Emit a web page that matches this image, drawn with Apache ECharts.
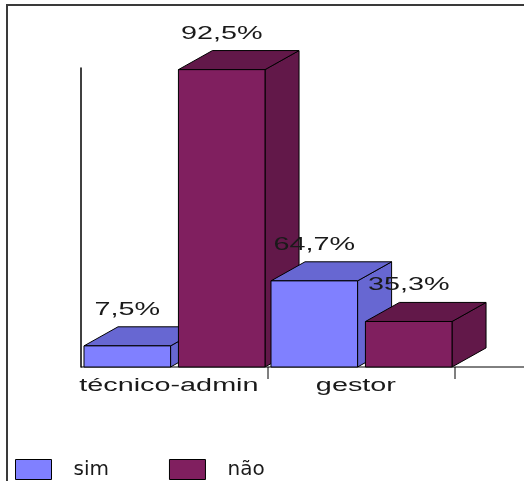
<!DOCTYPE html>
<html>
<head>
<meta charset="utf-8">
<script src="https://cdn.jsdelivr.net/npm/echarts@6/dist/echarts.min.js"></script>
<style>html,body{margin:0;padding:0;background:#fff;}#main{width:524px;height:481px;}</style>
</head>
<body>
<div id="main"></div>
<script>
const categories = ['técnico-admin', 'gestor'];
const seriesNames = ['sim', 'não'];
const simValues = [3, 11];
const naoValues = [37, 6];
const simLabels = ['7,5%', '64,7%'];
const naoLabels = ['92,5%', '35,3%'];

const Y_MIN = 0.4, Y_MAX = 37.2;
const colors = [
  {front: '#8080ff', dark: '#6767d2'},
  {front: '#801f5f', dark: '#621849'}
];
const FONT = '18px "Liberation Sans", Arial, sans-serif';

function makeRender(si, labels) {
  return function (params, api) {
    const ci = api.value(0), v = api.value(1);
    const c = api.coord([ci, v]);
    const b = api.coord([ci, Y_MIN]);
    const bw = api.size([1, 0])[0];
    const cx = c[0];
    const l = si === 0 ? cx - bw * 0.484 : cx + bw * 0.021;
    const r = si === 0 ? cx - bw * 0.021 : cx + bw * 0.484;
    const t = c[1], bot = b[1];
    const dx = bw * 0.182, dy = bw * 0.102;
    const zb = ci * 10 + si * 4 + 1;
    const col = colors[si];
    const stroke = {stroke: '#000', lineWidth: 1};
    const children = [
      {type: 'polygon', z2: zb, shape: {points: [[r, t], [r + dx, t - dy], [r + dx, bot - dy], [r, bot]]},
        style: Object.assign({fill: col.dark}, stroke)},
      {type: 'polygon', z2: zb + 1, shape: {points: [[l, t], [l + dx, t - dy], [r + dx, t - dy], [r, t]]},
        style: Object.assign({fill: col.dark}, stroke)},
      {type: 'polygon', z2: zb + 2, shape: {points: [[l, t], [r, t], [r, bot], [l, bot]]},
        style: Object.assign({fill: col.front}, stroke)},
      {type: 'text', z2: 100, x: (l + r) / 2, y: t - dy - 17, scaleX: 1.6,
        style: {text: labels[params.dataIndex], font: FONT, fill: '#1a1a1a', align: 'center', verticalAlign: 'middle'}}
    ];
    if (si === 0) {
      children.push({type: 'line', z2: 0, shape: {x1: cx + bw / 2, y1: bot, x2: cx + bw / 2, y2: bot + 12},
        style: {stroke: '#000', lineWidth: 1}});
      children.push({type: 'text', z2: 100, x: cx - bw * 0.03, y: bot + 19, scaleX: 1.6,
        style: {text: categories[ci], font: FONT, fill: '#1a1a1a', align: 'center', verticalAlign: 'middle'}});
      if (ci === 0) {
        children.push({type: 'line', z2: 0, shape: {x1: cx - bw / 2, y1: bot, x2: api.getWidth(), y2: bot},
          style: {stroke: '#000', lineWidth: 1}});
      }
    }
    return {type: 'group', children: children};
  };
}

const chart = echarts.init(document.getElementById('main'));
chart.setOption({
  animation: false,
  backgroundColor: '#fff',
  graphic: [{
    type: 'polyline', shape: {points: [[7, 481], [7, 5], [524, 5]]},
    style: {stroke: '#3a3a3a', lineWidth: 2, fill: null}
  }],
  grid: {left: 81, right: 69, top: 68, bottom: 114},
  legend: {
    data: seriesNames, left: 10, top: 454, orient: 'horizontal',
    icon: 'rect', itemWidth: 36, itemHeight: 20, itemGap: 60,
    itemStyle: {borderColor: '#000', borderWidth: 1},
    textStyle: {fontFamily: '"DejaVu Sans", sans-serif', fontSize: 20, color: '#1a1a1a', padding: [0, 0, 0, 17]}
  },
  xAxis: {
    type: 'category', data: categories, boundaryGap: true,
    axisLine: {show: false}, axisTick: {show: false}, axisLabel: {show: false}, splitLine: {show: false}
  },
  yAxis: {
    type: 'value', min: Y_MIN, max: Y_MAX,
    axisLine: {show: true, lineStyle: {color: '#000', width: 1.5}},
    axisTick: {show: false}, axisLabel: {show: false}, splitLine: {show: false}
  },
  series: [
    {name: seriesNames[0], type: 'custom', z: 2, itemStyle: {color: colors[0].front},
      data: simValues.map((v, i) => [i, v]), encode: {x: 0, y: 1}, renderItem: makeRender(0, simLabels)},
    {name: seriesNames[1], type: 'custom', z: 2, itemStyle: {color: colors[1].front},
      data: naoValues.map((v, i) => [i, v]), encode: {x: 0, y: 1}, renderItem: makeRender(1, naoLabels)}
  ]
});
</script>
</body>
</html>
